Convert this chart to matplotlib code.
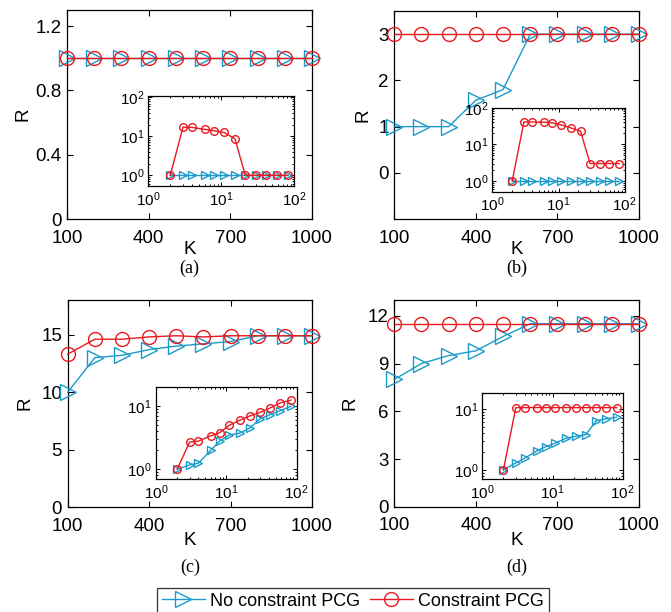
import matplotlib
matplotlib.use("Agg")
import matplotlib.pyplot as plt
from matplotlib.ticker import FormatStrFormatter, LogLocator, NullFormatter

plt.rcParams['font.family'] = ['Liberation Sans', 'DejaVu Sans']
plt.rcParams['mathtext.default'] = 'regular'

BLUE = '#1b9ac9'
RED = '#e8191f'

# main panels: R against K
K = [100, 200, 300, 400, 500, 600, 700, 800, 900, 1000]
a_noc = [1, 1, 1, 1, 1, 1, 1, 1, 1, 1]
a_con = [1, 1, 1, 1, 1, 1, 1, 1, 1, 1]
b_noc = [1, 1, 1, 1.57, 1.8, 3, 3, 3, 3, 3]
b_con = [3, 3, 3, 3, 3, 3, 3, 3, 3, 3]
c_noc = [10.0, 13.0, 13.2, 13.7, 14.0, 14.2, 14.4, 14.9, 14.9, 14.9]
c_con = [13.3, 14.6, 14.6, 14.8, 14.9, 14.8, 14.9, 14.9, 14.9, 14.9]
d_noc = [8.0, 9.0, 9.5, 9.8, 10.7, 11.5, 11.5, 11.5, 11.5, 11.5]
d_con = [11.5, 11.5, 11.5, 11.5, 11.5, 11.5, 11.5, 11.5, 11.5, 11.5]

# insets (log-log)
n = [2, 3, 4, 6, 8, 11, 15.5, 21.5, 30, 42, 58, 82]
ia_noc = [1, 1, 1, 1, 1, 1, 1, 1, 1, 1, 1, 1]
ia_con = [1, 17.3, 17, 15.1, 14, 12.6, 8.7, 1, 1, 1, 1, 1]
ib_noc = [1, 1, 1, 1, 1, 1, 1, 1, 1, 1, 1, 1]
ib_con = [1, 41, 41, 40.5, 39, 34, 28, 23, 3, 3, 3, 3]
ic_noc = [1, 1.17, 1.25, 2.0, 2.8, 3.5, 3.75, 4.5, 6.3, 7.4, 8.5, 10]
ic_con = [1, 2.7, 2.8, 3.4, 3.8, 5.0, 6.0, 7.0, 8.0, 9.4, 11.3, 12.5]
id_noc = [1, 1.3, 1.55, 2.05, 2.4, 2.75, 3.3, 3.55, 3.8, 6.4, 6.9, 7.3]
id_con = [1, 10.5, 10.5, 10.5, 10.5, 10.5, 10.5, 10.5, 10.5, 10.5, 10.5, 10.5]

panels = [
    dict(name='(a)', noc=a_noc, con=a_con, ylim=(0, 1.3), yticks=[0, 0.4, 0.8, 1.2],
         rect=[0.0999, 0.642, 0.365, 0.3415], inset=[0.221, 0.696, 0.217, 0.1466],
         inoc=ia_noc, icon=ia_con, iylim=(0.53, 107), rx=-0.145, kx=-0.105, lab_y=268),
    dict(name='(b)', noc=b_noc, con=b_con, ylim=(-1, 3.5), yticks=[0, 1, 2, 3],
         rect=[0.5876, 0.642, 0.3647, 0.340], inset=[0.7337, 0.6868, 0.1973, 0.1373],
         inoc=ib_noc, icon=ib_con, iylim=(0.51, 101), rx=-0.093, kx=-0.105, lab_y=268),
    dict(name='(c)', noc=c_noc, con=c_con, ylim=(0, 18), yticks=[0, 5, 10, 15],
         rect=[0.1009, 0.171, 0.364, 0.3387], inset=[0.2325, 0.2173, 0.2097, 0.1498],
         inoc=ic_noc, icon=ic_con, iylim=(0.7, 20), rx=-0.14, kx=-0.12, lab_y=567),
    dict(name='(d)', noc=d_noc, con=d_con, ylim=(0, 13), yticks=[0, 3, 6, 9, 12],
         rect=[0.5876, 0.172, 0.3647, 0.338], inset=[0.7188, 0.2168, 0.2092, 0.1405],
         inoc=id_noc, icon=id_con, iylim=(0.7, 18), rx=-0.148, kx=-0.12, lab_y=567),
]

fig = plt.figure(figsize=(6.71, 6.12), dpi=100)

for p in panels:
    ax = fig.add_axes(p['rect'])
    l1, = ax.plot(K, p['noc'], color=BLUE, lw=1.0, marker='>', ms=11, mfc='none',
                  mew=1.0, clip_on=False, zorder=3)
    l2, = ax.plot(K, p['con'], color=RED, lw=1.0, marker='o', ms=10, mfc='none',
                  mew=1.0, clip_on=False, zorder=4)
    ax.set_xlim(100, 1000)
    ax.set_ylim(*p['ylim'])
    ax.set_xticks([100, 400, 700, 1000])
    ax.set_yticks(p['yticks'])
    ax.yaxis.set_major_formatter(FormatStrFormatter('%g'))
    ax.tick_params(direction='in', top=True, right=True, length=4, width=0.8,
                   labelsize=13.5)
    ax.tick_params(axis='x', pad=7.5)
    ax.tick_params(axis='y', pad=4)
    for s in ax.spines.values():
        s.set_linewidth(0.9)
    ax.set_xlabel('K', fontsize=13.5)
    ax.set_ylabel('R', fontsize=13.5)
    ax.xaxis.set_label_coords(0.5, p['kx'])
    ax.yaxis.set_label_coords(p['rx'], 0.5)
    ax.xaxis.label.set_va('top')

    cx = p['rect'][0] + p['rect'][2] / 2
    fig.text(cx, 1 - p['lab_y'] / 612, p['name'], family='Liberation Serif',
             fontsize=13, ha='center', va='center')

    ins = fig.add_axes(p['inset'])
    ins.plot(n, p['inoc'], color=BLUE, lw=1.0, marker='>', ms=6, mfc='none', mew=1.0,
             clip_on=False, zorder=3)
    ins.plot(n, p['icon'], color=RED, lw=1.0, marker='o', ms=5.5, mfc='none', mew=1.0,
             clip_on=False, zorder=4)
    ins.set_xscale('log')
    ins.set_yscale('log')
    ins.set_xlim(1, 100)
    ins.set_ylim(*p['iylim'])
    ins.xaxis.set_major_locator(LogLocator(base=10, numticks=5))
    ins.yaxis.set_major_locator(LogLocator(base=10, numticks=5))
    ins.xaxis.set_minor_formatter(NullFormatter())
    ins.yaxis.set_minor_formatter(NullFormatter())
    ins.tick_params(which='both', direction='in', top=True, right=True, labelsize=11,
                    width=0.7, pad=3)
    ins.tick_params(which='major', length=3)
    ins.tick_params(which='minor', length=1.5)
    for s in ins.spines.values():
        s.set_linewidth(0.9)

fig.legend([l1, l2], ['No constraint PCG', 'Constraint PCG'], loc='upper center',
           bbox_to_anchor=(0.526, 1 - 588 / 612), ncol=2, fontsize=13, frameon=True,
           fancybox=False, edgecolor='black', handlelength=2.4, handletextpad=0.3,
           columnspacing=0.5, borderpad=0.25, borderaxespad=0)
fig.legends[0].get_frame().set_linewidth(0.9)

fig.savefig('out.png', dpi=100)
